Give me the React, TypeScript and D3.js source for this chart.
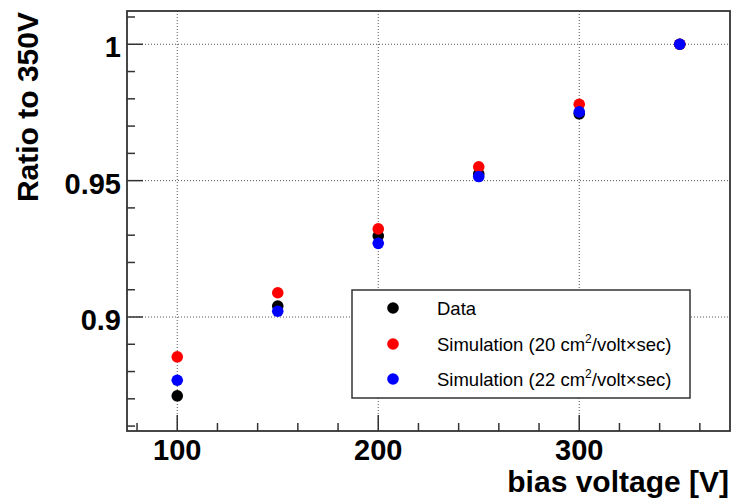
import React from "react";
import * as d3 from "d3";

const voltages = [100, 150, 200, 250, 300, 350];
const dataRatio = [0.8711, 0.904, 0.9298, 0.9525, 0.9745, 1.0];
const sim20Ratio = [0.8854, 0.9089, 0.9323, 0.9551, 0.978, 1.0];
const sim22Ratio = [0.8768, 0.9021, 0.927, 0.9515, 0.9752, 1.0];

const xMajorTicks = [100, 200, 300];
const xMinorTicks = [80, 120, 140, 160, 180, 220, 240, 260, 280, 320, 340, 360];
const yMajorTicks = [0.9, 0.95, 1.0];
const yMinorTicks = [0.86, 0.87, 0.88, 0.89, 0.91, 0.92, 0.93, 0.94, 0.96, 0.97, 0.98, 0.99, 1.01];
const yTickLabels = ["0.9", "0.95", "1"];

const seriesNames = [
  "Data",
  "Simulation (20 cm",
  "Simulation (22 cm",
];
const seriesColors = ["#000000", "#ff0000", "#0000ff"];

const W = 735;
const H = 502;
const left = 127;
const right = 730;
const top = 11;
const bottom = 431;

export default function App() {
  const x = d3.scaleLinear().domain([75, 375]).range([left, right]);
  const y = d3.scaleLinear().domain([0.8582, 1.0122]).range([bottom, top]);
  const series = [dataRatio, sim20Ratio, sim22Ratio];
  const font = "Liberation Sans, Arial, Helvetica, sans-serif";
  const frame = "#333";

  const legX = 352;
  const legY = 290;
  const legW = 338;
  const legH = 108;
  const rowYs = [308, 344, 379];

  return (
    <svg
      width={W}
      height={H}
      style={{ position: "absolute", left: 0, top: 0, background: "#fff" }}
      fontFamily={font}
    >
      <rect x={0} y={0} width={W} height={H} fill="#fff" />
      {/* grid */}
      {xMajorTicks.map((t) => (
        <line key={"gx" + t} x1={x(t)} x2={x(t)} y1={top} y2={bottom} stroke="#555" strokeWidth={1} strokeDasharray="1,2" />
      ))}
      {yMajorTicks.map((t) => (
        <line key={"gy" + t} x1={left} x2={right} y1={y(t)} y2={y(t)} stroke="#555" strokeWidth={1} strokeDasharray="1,2" />
      ))}
      {/* ticks */}
      {xMajorTicks.map((t) => (
        <line key={"xt" + t} x1={x(t)} x2={x(t)} y1={bottom} y2={bottom - 16} stroke={frame} strokeWidth={1.5} />
      ))}
      {xMinorTicks.map((t) => (
        <line key={"xm" + t} x1={x(t)} x2={x(t)} y1={bottom} y2={bottom - 8} stroke={frame} strokeWidth={1.5} />
      ))}
      {yMajorTicks.map((t) => (
        <line key={"yt" + t} x1={left} x2={left + 16} y1={y(t)} y2={y(t)} stroke={frame} strokeWidth={1.5} />
      ))}
      {yMinorTicks.map((t) => (
        <line key={"ym" + t} x1={left} x2={left + 8} y1={y(t)} y2={y(t)} stroke={frame} strokeWidth={1.5} />
      ))}
      {/* frame */}
      <rect x={left} y={top} width={right - left} height={bottom - top} fill="none" stroke={frame} strokeWidth={1.8} />
      {/* tick labels */}
      {xMajorTicks.map((t) => (
        <text key={"xl" + t} x={x(t)} y={460} textAnchor="middle" fontSize={29} fontWeight="bold" fill="#000">
          {t}
        </text>
      ))}
      {yMajorTicks.map((t, i) => (
        <text key={"yl" + t} x={121} y={y(t) + 13} textAnchor="end" fontSize={29} fontWeight="bold" fill="#000">
          {yTickLabels[i]}
        </text>
      ))}
      {/* axis titles */}
      <text x={729} y={492} textAnchor="end" fontSize={30} fontWeight="bold" fill="#000">
        bias voltage [V]
      </text>
      <text
        transform={`translate(38,12) rotate(-90)`}
        textAnchor="end"
        fontSize={30}
        fontWeight="bold"
        fill="#000"
      >
        Ratio to 350V
      </text>
      {/* points */}
      {series.map((s, si) =>
        s.map((v, i) => (
          <circle key={`p${si}-${i}`} cx={x(voltages[i])} cy={y(v)} r={5.8} fill={seriesColors[si]} />
        ))
      )}
      {/* legend */}
      <rect x={legX} y={legY} width={legW} height={legH} fill="#fff" stroke={frame} strokeWidth={1.5} />
      {seriesNames.map((n, i) => (
        <g key={"lg" + i}>
          <circle cx={393} cy={rowYs[i]} r={5.8} fill={seriesColors[i]} />
          <text x={437} y={rowYs[i] + 7} fontSize={18.5} fill="#000">
            {n}
            {i > 0 && (
              <>
                <tspan dy={-8} fontSize={12}>2</tspan>
                <tspan dy={8}>/volt×sec)</tspan>
              </>
            )}
          </text>
        </g>
      ))}
    </svg>
  );
}
